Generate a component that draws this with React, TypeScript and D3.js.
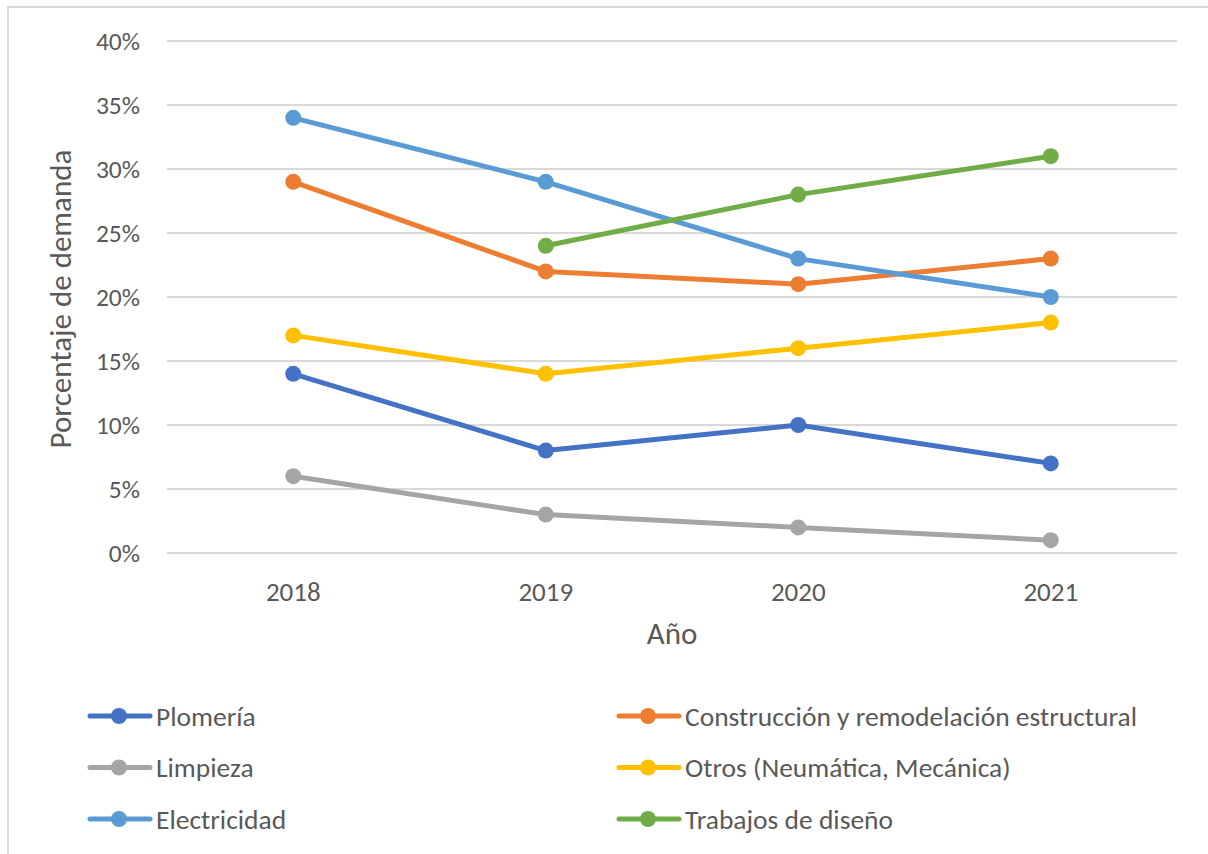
import React, { useMemo } from "react";
import * as d3 from "d3";

const WIDTH = 1208;
const HEIGHT = 854;
const MARGIN = { top: 41, right: 31, bottom: 301, left: 167 };
const FONT = "Carlito, Calibri, Lato, 'Open Sans', sans-serif";

const YEARS = ["2018", "2019", "2020", "2021"];
const Y_TICKS = [0, 5, 10, 15, 20, 25, 30, 35, 40];

const PLOMERIA = [14, 8, 10, 7];
const CONSTRUCCION = [29, 22, 21, 23];
const LIMPIEZA = [6, 3, 2, 1];
const OTROS = [17, 14, 16, 18];
const ELECTRICIDAD = [34, 29, 23, 20];
const DISENO = [null, 24, 28, 31];

const SERIES = [
  { name: "Plomería", values: PLOMERIA, color: "#4472C4" },
  { name: "Construcción y remodelación estructural", values: CONSTRUCCION, color: "#ED7D31" },
  { name: "Limpieza", values: LIMPIEZA, color: "#A5A5A5" },
  { name: "Otros (Neumática, Mecánica)", values: OTROS, color: "#FFC000" },
  { name: "Electricidad", values: ELECTRICIDAD, color: "#5B9BD5" },
  { name: "Trabajos de diseño", values: DISENO, color: "#70AD47" },
];

const App = () => {
  const boundsWidth = WIDTH - MARGIN.left - MARGIN.right;
  const boundsHeight = HEIGHT - MARGIN.top - MARGIN.bottom;

  const xScale = useMemo(
    () => d3.scalePoint().domain(YEARS).range([0, boundsWidth]).padding(0.5),
    [boundsWidth]
  );
  const yScale = useMemo(
    () => d3.scaleLinear().domain([0, 40]).range([boundsHeight, 0]),
    [boundsHeight]
  );

  const line = d3
    .line<number | null>()
    .defined((d) => d != null)
    .x((_, i) => xScale(YEARS[i]) as number)
    .y((d) => yScale(d as number));

  return (
    <svg
      width={WIDTH}
      height={HEIGHT}
      style={{ position: "absolute", left: 0, top: 0, background: "#fff" }}
    >
      <rect x={8} y={7} width={WIDTH + 10} height={HEIGHT + 10} fill="#fff" stroke="#d9d9d9" strokeWidth={2} />

      <g transform={`translate(${MARGIN.left},${MARGIN.top})`}>
        {Y_TICKS.map((t) => (
          <g key={t}>
            <line x1={0} x2={boundsWidth} y1={yScale(t)} y2={yScale(t)} stroke="#d9d9d9" strokeWidth={2} />
            <text
              x={-27}
              y={yScale(t)}
              textAnchor="end"
              dominantBaseline="central"
              fontSize={25.5}
              fontFamily={FONT}
              fill="#595959"
            >
              {t}%
            </text>
          </g>
        ))}
        {YEARS.map((y) => (
          <text
            key={y}
            x={xScale(y)}
            y={boundsHeight + 38}
            textAnchor="middle"
            dominantBaseline="central"
            fontSize={27}
            fontFamily={FONT}
            fill="#595959"
          >
            {y}
          </text>
        ))}

        {SERIES.map((s) => (
          <g key={s.name}>
            <path d={line(s.values) || ""} fill="none" stroke={s.color} strokeWidth={5} strokeLinejoin="round" strokeLinecap="round" />
            {s.values.map((v, i) =>
              v == null ? null : (
                <circle key={i} cx={xScale(YEARS[i])} cy={yScale(v)} r={8} fill={s.color} />
              )
            )}
          </g>
        ))}
      </g>

      <text
        transform={`translate(60,${MARGIN.top + boundsHeight / 2 + 2}) rotate(-90)`}
        textAnchor="middle"
        dominantBaseline="central"
        fontSize={31}
        fontFamily={FONT}
        fill="#595959"
      >
        Porcentaje de demanda
      </text>
      <text
        x={MARGIN.left + boundsWidth / 2}
        y={633}
        textAnchor="middle"
        dominantBaseline="central"
        fontSize={31}
        fontFamily={FONT}
        fill="#595959"
      >
        Año
      </text>

      {SERIES.map((s, i) => {
        const col = i % 2;
        const row = Math.floor(i / 2);
        const x0 = col === 0 ? 88 : 617;
        const y0 = 716 + row * 51.5;
        return (
          <g key={s.name} transform={`translate(${x0},${y0})`}>
            <line x1={2} x2={62} y1={0} y2={0} stroke={s.color} strokeWidth={5} strokeLinecap="round" />
            <circle cx={31} cy={0} r={8} fill={s.color} />
            <text x={68} y={0} dominantBaseline="central" fontSize={27.5} fontFamily={FONT} fill="#595959">
              {s.name}
            </text>
          </g>
        );
      })}
    </svg>
  );
};

export default App;
